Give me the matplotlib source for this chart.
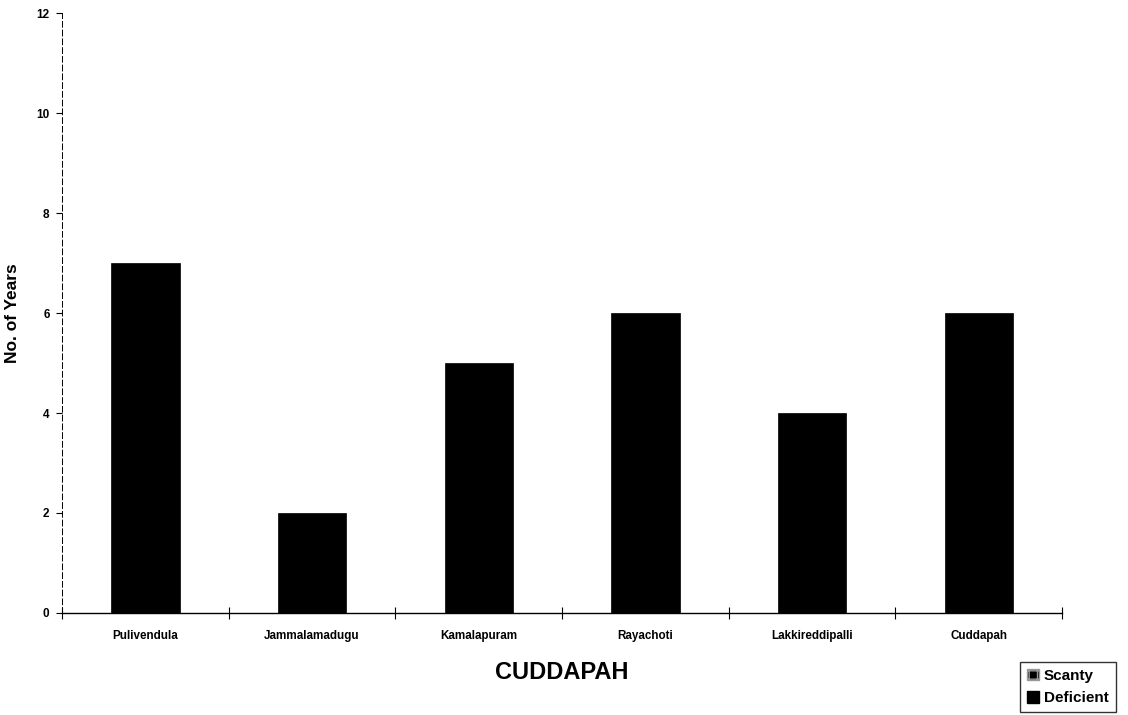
import numpy as np
import matplotlib.pyplot as plt
from matplotlib.patches import Patch

stations = ["Pulivendula", "Jammalamadugu", "Kamalapuram",
            "Rayachoti", "Lakkireddipalli", "Cuddapah"]
scanty = [7, 2, 5, 6, 4, 6]
deficient = [0, 0, 0, 0, 0, 0]
yticks = [0, 2, 4, 6, 8, 10, 12]

plt.rcParams['font.family'] = ['Liberation Sans', 'DejaVu Sans']

fig = plt.figure(figsize=(11.28, 7.15), dpi=100)
ax = fig.add_axes([0.055, 0.1427, 0.8865, 0.839])

x = np.arange(len(stations))
ax.bar(x, scanty, width=0.41, color='black', edgecolor='black', linewidth=0.5)
ax.bar(x, deficient, width=0.41, bottom=scanty, color='black')

ax.set_xlim(-0.5, len(stations) - 0.5)
ax.set_ylim(0, 12)
ax.set_yticks(yticks)
ax.set_yticklabels([str(t) for t in yticks], fontsize=8.5, fontweight='bold')

# category labels sit between boundary ticks
ax.set_xticks(x)
ax.set_xticklabels(stations, fontsize=8.4, fontweight='bold')
ax.tick_params(axis='x', which='major', length=0, pad=12)
ax.set_xticks(np.arange(len(stations) + 1) - 0.5, minor=True)
ax.tick_params(axis='x', which='minor', length=8, direction='inout', width=0.8)
ax.tick_params(axis='y', length=4, width=0.8, pad=5)

for side in ('top', 'right'):
    ax.spines[side].set_visible(False)
ax.spines['left'].set_linestyle((0, (6, 3)))
ax.spines['left'].set_linewidth(0.7)
ax.spines['bottom'].set_linewidth(1.0)

ax.set_xlabel('CUDDAPAH', fontsize=17, fontweight='bold', labelpad=14)
ax.set_ylabel('No. of Years', fontsize=12.5, fontweight='bold', labelpad=12)

handles = [Patch(facecolor='black', edgecolor='#999999', hatch='++', label='Scanty'),
           Patch(facecolor='black', edgecolor='black', label='Deficient')]
leg = fig.legend(handles=handles, loc='lower right', bbox_to_anchor=(0.989, 0.004),
                 fontsize=11, frameon=True, fancybox=False, edgecolor='black',
                 handlelength=0.8, handleheight=0.8, handletextpad=0.3,
                 borderpad=0.45, labelspacing=0.55, borderaxespad=0)
for t in leg.get_texts():
    t.set_fontweight('bold')

fig.savefig('out.png', dpi=100)
